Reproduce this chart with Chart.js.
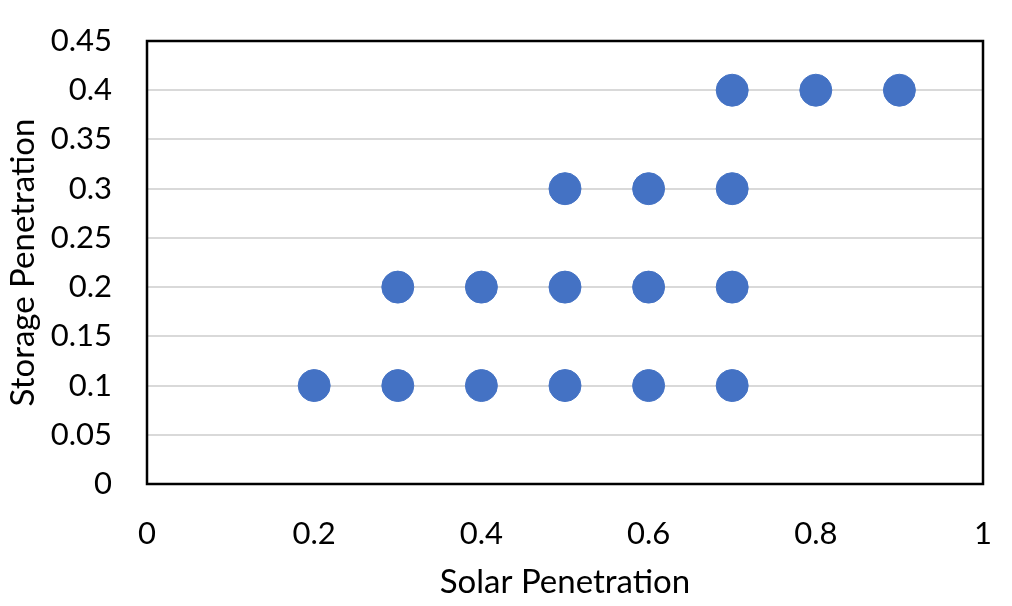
<!DOCTYPE html>
<html>
<head>
<meta charset="utf-8">
<style>
  html,body{margin:0;padding:0;background:#fff}
</style>
<script src="https://cdn.jsdelivr.net/npm/chart.js@4/dist/chart.umd.min.js"></script>
</head>
<body>
<canvas id="c" width="1012" height="606"></canvas>
<script>
// Solar vs storage penetration — scenarios
const solarPen   = [0.2,0.3,0.4,0.5,0.6,0.7, 0.3,0.4,0.5,0.6,0.7, 0.5,0.6,0.7, 0.7,0.8,0.9];
const storagePen = [0.1,0.1,0.1,0.1,0.1,0.1, 0.2,0.2,0.2,0.2,0.2, 0.3,0.3,0.3, 0.4,0.4,0.4];
const xTicks = ['0','0.2','0.4','0.6','0.8','1'];
const yTicks = ['0','0.05','0.1','0.15','0.2','0.25','0.3','0.35','0.4','0.45'];

const FONT = "Lato, 'Open Sans', sans-serif";

// box round the plot area
const frame = {
  id:'frame',
  afterDraw(chart){
    const a = chart.chartArea, ctx = chart.ctx;
    ctx.save();
    ctx.strokeStyle = '#000';
    ctx.lineWidth = 2.5;
    ctx.strokeRect(a.left, a.top, a.right-a.left, a.bottom-a.top);
    ctx.restore();
  }
};

new Chart(document.getElementById('c'), {
  type:'scatter',
  data:{
    datasets:[{
      data: solarPen.map((x,i)=>({x, y:storagePen[i]})),
      backgroundColor:'#4472C4',
      borderColor:'#4472C4',
      pointRadius:16,
      pointHoverRadius:16
    }]
  },
  options:{
    responsive:false,
    animation:false,
    devicePixelRatio:1,
    layout:{padding:{top:41, right:29, left:0, bottom:0}},
    plugins:{legend:{display:false}, tooltip:{enabled:false}},
    scales:{
      x:{
        type:'linear', min:0, max:1,
        afterBuildTicks: s => { s.ticks = xTicks.map(v=>({value:parseFloat(v)})); },
        afterFit: s => { s.height = 122; s.paddingLeft = 0; s.paddingRight = 0; },
        grid:{display:false, drawTicks:false},
        border:{display:false},
        ticks:{padding:31, color:'#000', font:{family:FONT, size:31}, maxRotation:0, autoSkip:false,
          callback:(v,i)=>xTicks[i]},
        title:{display:true, text:'Solar Penetration', color:'#000', font:{family:FONT, size:33}, padding:{top:9}}
      },
      y:{
        type:'linear', min:0, max:0.45,
        afterBuildTicks: s => { s.ticks = yTicks.map(v=>({value:parseFloat(v)})); },
        afterFit: s => { s.width = 147; s.paddingTop = 0; s.paddingBottom = 0; },
        grid:{color:'#d9d9d9', lineWidth:2, drawTicks:false},
        border:{display:false},
        ticks:{padding:35, color:'#000', font:{family:FONT, size:31}, autoSkip:false,
          callback:(v,i)=>yTicks[i]},
        title:{display:true, text:'Storage Penetration', color:'#000', font:{family:FONT, size:33}, padding:{bottom:0}}
      }
    }
  },
  plugins:[frame]
});
</script>
</body>
</html>
